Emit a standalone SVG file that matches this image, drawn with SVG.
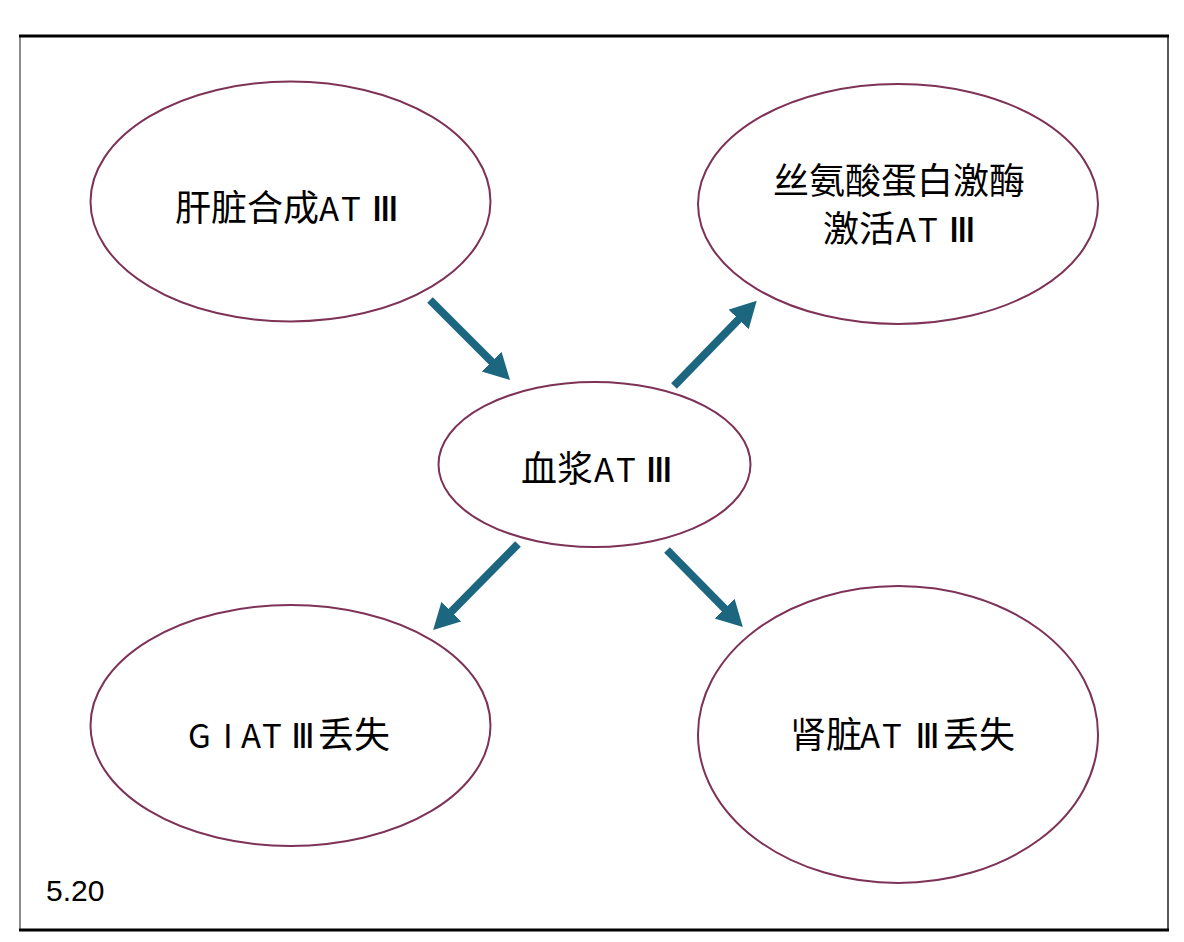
<svg xmlns="http://www.w3.org/2000/svg" width="1184" height="942" viewBox="0 0 1184 942">
<style>
.node ellipse{fill:#ffffff;stroke:#7d3256;stroke-width:2}
.lbl{font-family:"Noto Sans CJK SC","Noto Sans",sans-serif;font-size:36px;fill:#000}
.lat{font-size:33px}
.rn{font-family:"Noto Sans","DejaVu Sans",sans-serif;font-size:33px;fill:#000}
.conn line{stroke:#1d6680;stroke-width:8}
</style>
<defs>
<marker id="ah" markerUnits="userSpaceOnUse" markerWidth="30" markerHeight="30" refX="2" refY="14" orient="auto">
<path d="M0,0 L26,14 L0,28 z" fill="#1d6680"/>
</marker>
</defs>
<rect x="0" y="0" width="1184" height="942" fill="#ffffff"/>
<g id="frame">
<line x1="20" y1="36" x2="20" y2="930" stroke="#666" stroke-width="1.5"/>
<line x1="1168" y1="36" x2="1168" y2="930" stroke="#222" stroke-width="1.5"/>
<line x1="19" y1="36" x2="1169" y2="36" stroke="#000" stroke-width="3"/>
<line x1="19" y1="930" x2="1169" y2="930" stroke="#000" stroke-width="3"/>
</g>
<g id="connectors" class="conn">
<line x1="430" y1="300" x2="493" y2="363" marker-end="url(#ah)"/>
<line x1="674" y1="386" x2="740" y2="318" marker-end="url(#ah)"/>
<line x1="518" y1="544" x2="450" y2="613" marker-end="url(#ah)"/>
<line x1="667" y1="550" x2="726" y2="610" marker-end="url(#ah)"/>
</g>
<g id="n-liver" class="node">
<ellipse cx="290.5" cy="201.5" rx="200" ry="120"/>
<text class="lbl" y="221"><tspan x="175">肝脏合成</tspan><tspan class="lat" x="319 341">AT</tspan></text>
<text class="rn" transform="translate(371,221) scale(1.25,1)">Ⅲ</text>
</g>
<g id="n-serine" class="node">
<ellipse cx="898" cy="204" rx="200" ry="120"/>
<text class="lbl" y="194" x="773">丝氨酸蛋白激酶</text>
<text class="lbl" y="242"><tspan x="823">激活</tspan><tspan class="lat" x="896 918">AT</tspan></text>
<text class="rn" transform="translate(948,242) scale(1.25,1)">Ⅲ</text>
</g>
<g id="n-plasma" class="node">
<ellipse cx="594.5" cy="464.5" rx="156" ry="82.5"/>
<text class="lbl" y="482"><tspan x="521">血浆</tspan><tspan class="lat" x="594 616">AT</tspan></text>
<text class="rn" transform="translate(645,482) scale(1.25,1)">Ⅲ</text>
</g>
<g id="n-gi" class="node">
<ellipse cx="290.5" cy="725.5" rx="200" ry="120.5"/>
<text class="lbl" y="748"><tspan class="lat" x="188 223 241 262">GIAT</tspan></text>
<text class="rn" transform="translate(291,748) scale(1.05,1)">Ⅲ</text>
<text class="lbl" x="318" y="748">丢失</text>
</g>
<g id="n-kidney" class="node">
<ellipse cx="898" cy="734.5" rx="200" ry="148.5"/>
<text class="lbl" y="748"><tspan x="790">肾脏</tspan><tspan class="lat" x="860 882">AT</tspan></text>
<text class="rn" transform="translate(915,748) scale(1.1,1)">Ⅲ</text>
<text class="lbl" x="943" y="748">丢失</text>
</g>
<text x="46" y="901" font-family="Liberation Sans, Arial, sans-serif" font-size="30" fill="#000">5.20</text>
</svg>
